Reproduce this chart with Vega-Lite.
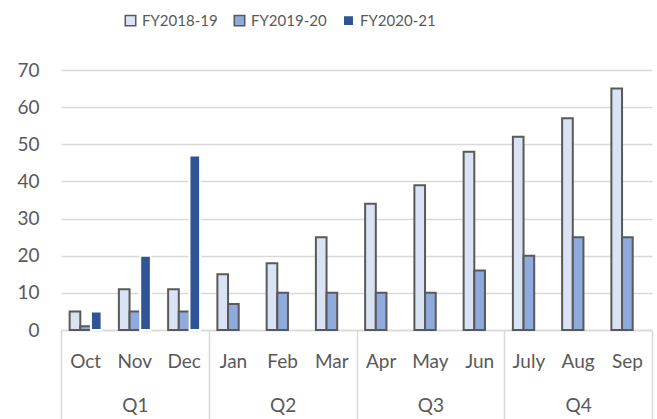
{
  "$schema": "https://vega.github.io/schema/vega-lite/v6.json",
  "width": 591,
  "height": 260,
  "autosize": {"type": "none"},
  "padding": {"left": 61, "top": 70, "right": 5, "bottom": 89},
  "background": "white",
  "config": {
    "view": {"stroke": null},
    "font": "Lato",
    "axis": {"labelFont": "Lato", "labelColor": "#595959"},
    "legend": {"labelFont": "Lato", "labelColor": "#595959"}
  },
  "layer": [
    {
      "data": {
        "values": [
          {"month": "Oct", "quarter": "Q1", "series": "FY2018-19", "value": 5},
          {"month": "Oct", "quarter": "Q1", "series": "FY2019-20", "value": 1},
          {"month": "Oct", "quarter": "Q1", "series": "FY2020-21", "value": 5},
          {"month": "Nov", "quarter": "Q1", "series": "FY2018-19", "value": 11},
          {"month": "Nov", "quarter": "Q1", "series": "FY2019-20", "value": 5},
          {"month": "Nov", "quarter": "Q1", "series": "FY2020-21", "value": 20},
          {"month": "Dec", "quarter": "Q1", "series": "FY2018-19", "value": 11},
          {"month": "Dec", "quarter": "Q1", "series": "FY2019-20", "value": 5},
          {"month": "Dec", "quarter": "Q1", "series": "FY2020-21", "value": 47},
          {"month": "Jan", "quarter": "Q2", "series": "FY2018-19", "value": 15},
          {"month": "Jan", "quarter": "Q2", "series": "FY2019-20", "value": 7},
          {"month": "Feb", "quarter": "Q2", "series": "FY2018-19", "value": 18},
          {"month": "Feb", "quarter": "Q2", "series": "FY2019-20", "value": 10},
          {"month": "Mar", "quarter": "Q2", "series": "FY2018-19", "value": 25},
          {"month": "Mar", "quarter": "Q2", "series": "FY2019-20", "value": 10},
          {"month": "Apr", "quarter": "Q3", "series": "FY2018-19", "value": 34},
          {"month": "Apr", "quarter": "Q3", "series": "FY2019-20", "value": 10},
          {"month": "May", "quarter": "Q3", "series": "FY2018-19", "value": 39},
          {"month": "May", "quarter": "Q3", "series": "FY2019-20", "value": 10},
          {"month": "Jun", "quarter": "Q3", "series": "FY2018-19", "value": 48},
          {"month": "Jun", "quarter": "Q3", "series": "FY2019-20", "value": 16},
          {"month": "July", "quarter": "Q4", "series": "FY2018-19", "value": 52},
          {"month": "July", "quarter": "Q4", "series": "FY2019-20", "value": 20},
          {"month": "Aug", "quarter": "Q4", "series": "FY2018-19", "value": 57},
          {"month": "Aug", "quarter": "Q4", "series": "FY2019-20", "value": 25},
          {"month": "Sep", "quarter": "Q4", "series": "FY2018-19", "value": 65},
          {"month": "Sep", "quarter": "Q4", "series": "FY2019-20", "value": 25}
        ]
      },
      "mark": {"type": "bar", "strokeWidth": 2},
      "encoding": {
        "x": {
          "field": "month",
          "type": "nominal",
          "sort": ["Oct", "Nov", "Dec", "Jan", "Feb", "Mar", "Apr", "May", "Jun", "July", "Aug", "Sep"],
          "scale": {"type": "band", "paddingInner": 0, "paddingOuter": 0},
          "axis": {
            "title": null,
            "orient": "bottom",
            "labelAngle": 0,
            "ticks": false,
            "domainColor": "#d9d9d9",
            "domainWidth": 1.5,
            "labelPadding": 31,
            "labelBaseline": "middle",
            "labelFontSize": 19
          }
        },
        "xOffset": {
          "field": "series",
          "type": "nominal",
          "scale": {"paddingInner": 0, "paddingOuter": 0.81}
        },
        "y": {
          "field": "value",
          "type": "quantitative",
          "scale": {"domain": [0, 70], "nice": false},
          "axis": {
            "title": null,
            "values": [0, 10, 20, 30, 40, 50, 60, 70],
            "grid": true,
            "gridColor": "#d9d9d9",
            "gridWidth": 1.5,
            "domain": false,
            "ticks": false,
            "labelPadding": 22,
            "labelFontSize": 19
          }
        },
        "fill": {
          "field": "series",
          "type": "nominal",
          "scale": {"domain": ["FY2018-19", "FY2019-20", "FY2020-21"], "range": ["#dae3f3", "#8faadc", "#2f5597"]},
          "legend": {
            "title": null,
            "orient": "none",
            "direction": "horizontal",
            "legendX": 62,
            "legendY": -57,
            "padding": 0,
            "symbolType": "square",
            "symbolSize": 110,
            "symbolStrokeWidth": 1.5,
            "labelFontSize": 15,
            "labelOffset": 4,
            "columnPadding": 13
          }
        },
        "stroke": {
          "field": "series",
          "type": "nominal",
          "scale": {"domain": ["FY2018-19", "FY2019-20", "FY2020-21"], "range": ["#595959", "#595959", "#ffffff"]},
          "legend": {
            "title": null,
            "orient": "none",
            "direction": "horizontal",
            "legendX": 62,
            "legendY": -57,
            "padding": 0,
            "symbolType": "square",
            "symbolSize": 110,
            "symbolStrokeWidth": 1.5,
            "labelFontSize": 15,
            "labelOffset": 4,
            "columnPadding": 13
          }
        }
      }
    },
    {
      "data": {"values": [{"quarter": "Q1"}, {"quarter": "Q2"}, {"quarter": "Q3"}, {"quarter": "Q4"}]},
      "mark": {"type": "point", "opacity": 0},
      "encoding": {
        "x": {
          "field": "quarter",
          "type": "nominal",
          "scale": {"type": "band", "paddingInner": 0, "paddingOuter": 0},
          "axis": {
            "title": null,
            "orient": "bottom",
            "labelAngle": 0,
            "domain": false,
            "tickBand": "extent",
            "tickSize": 89,
            "tickColor": "#d9d9d9",
            "tickWidth": 1.5,
            "labelPadding": -14,
            "labelBaseline": "middle",
            "labelFontSize": 19
          }
        }
      }
    }
  ],
  "resolve": {"scale": {"x": "independent"}, "axis": {"x": "independent"}}
}
